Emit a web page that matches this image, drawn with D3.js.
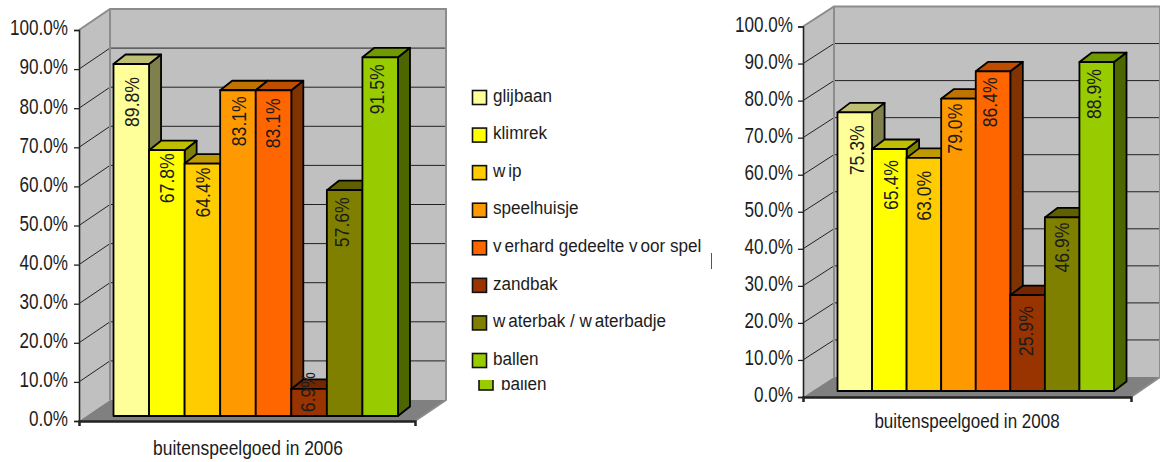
<!DOCTYPE html>
<html><head><meta charset="utf-8">
<script src="https://cdn.jsdelivr.net/npm/d3@7"></script>
<style>html,body{margin:0;padding:0;background:#fff}svg{display:block}text{font-family:"Liberation Sans",Arial,sans-serif;fill:#1c1c1c}</style>
</head><body><svg id="c" width="1160" height="462"></svg>
<script>
const categories = ["glijbaan","klimrek","wip","speelhuisje","verhard gedeelte voor spel","zandbak","waterbak / waterbadje","ballen"];
const colors = ["#ffff99","#ffff00","#ffcc00","#ff9900","#ff6600","#993300","#808000","#99cc00"];
const values2006 = [89.8,67.8,64.4,83.1,83.1,6.9,57.6,91.5];
const values2008 = [75.3,65.4,63.0,79.0,86.4,25.9,46.9,88.9];
const tickValues = [0,10,20,30,40,50,60,70,80,90,100];
const title2006 = "buitenspeelgoed in 2006";
const title2008 = "buitenspeelgoed in 2008";

// label placement: gap from bar top to label start, and horizontal nudge from bar centre
const labelGap2006 = [13,3,4,6,8,-17,7,7];
const labelNudge2006 = [0,0,0,0,-1,-2,-3,-4];
const labelGap2008 = [13,11,13,5,6,11,5,7];
const labelNudge2008 = [2,1,0,-4,-4,-2,-1,-3];

const svg = d3.select("#c");
const shade = (c,k)=>{const r=d3.rgb(c);return d3.rgb(r.r*k,r.g*k,r.b*k).formatHex();};

function drawChart(values,title,gaps,nudges,f){
  const g = svg.append("g");
  const yAxis = d3.scaleLinear().domain([0,100]).range([f.y0,f.y100]);
  const yBar = d3.scaleLinear().domain([0,100]).range([f.barY0,f.barY100]);
  const x = d3.scaleBand().domain(categories).range([f.barL,f.barR]);
  const L=f.x0,R=f.x1,dx=f.wallDx,dy=f.wallDy,Rb=f.backR;

  // walls
  g.append("polygon").attr("points",[[L+dx,yAxis(100)-dy],[Rb,yAxis(100)-dy],[Rb,f.y0-dy],[L+dx,f.y0-dy]].join(" ")).attr("fill","#c0c0c0");
  g.append("polygon").attr("points",[[L,yAxis(100)],[L+dx,yAxis(100)-dy],[L+dx,f.y0-dy],[L,f.y0]].join(" ")).attr("fill","#c0c0c0");
  g.append("polygon").attr("points",[[L,f.y0],[L+dx,f.y0-dy],[Rb,f.y0-dy],[R,f.y0]].join(" ")).attr("fill","#808080");

  // gridlines
  const grid = g.append("g").attr("stroke","#222").attr("stroke-width",1).attr("fill","none");
  grid.selectAll("polyline").data(tickValues.filter(t=>t>0&&t<100)).join("polyline")
    .attr("points",t=>[[L,yAxis(t)],[L+dx,yAxis(t)-dy],[Rb,yAxis(t)-dy]].join(" "));

  // wall outline
  g.append("polyline").attr("points",[[L,yAxis(100)],[L+dx,yAxis(100)-dy],[Rb,yAxis(100)-dy],[Rb,f.y0-dy],[R,f.y0]].join(" "))
    .attr("fill","none").attr("stroke","#8c8c8c").attr("stroke-width",2);
  g.append("line").attr("x1",L+dx).attr("x2",L+dx).attr("y1",yAxis(100)-dy).attr("y2",f.y0-dy).attr("stroke","#8c8c8c").attr("stroke-width",2);

  // bars
  const bd=f.barDx,bh=f.barDy;
  const bars = g.selectAll("g.bar").data(values).join("g").attr("class","bar")
    .attr("stroke","#000").attr("stroke-width",1.8).attr("stroke-linejoin","round");
  bars.each(function(v,i){
    const s=d3.select(this),c=categories[i],xl=x(c),xr=xl+x.bandwidth(),t=yBar(v),b=yBar(0);
    s.append("polygon").attr("points",[[xr,t],[xr+bd,t-bh],[xr+bd,b-bh],[xr,b]].join(" ")).attr("fill",shade(colors[i],.5));
    s.append("polygon").attr("points",[[xl,t],[xl+bd,t-bh],[xr+bd,t-bh],[xr,t]].join(" ")).attr("fill",shade(colors[i],.75));
    s.append("rect").attr("x",xl).attr("y",t).attr("width",x.bandwidth()).attr("height",b-t).attr("fill",colors[i]);
  });

  // data labels
  g.selectAll("text.val").data(values).join("text").attr("class","val")
    .attr("font-size",21).attr("text-anchor","end").attr("dy","0.36em")
    .attr("transform",(v,i)=>`translate(${x(categories[i])+x.bandwidth()/2+nudges[i]},${yBar(v)+gaps[i]}) rotate(-90) scale(0.84,1)`)
    .text(v=>v.toFixed(1)+"%");

  // axes
  const ax = g.append("g").attr("transform",`translate(${L},0)`)
    .call(d3.axisLeft(yAxis).tickValues(tickValues).tickSize(5).tickFormat(t=>t.toFixed(1)+"%"));
  ax.select(".domain").attr("stroke","#222").attr("stroke-width",1.6);
  ax.selectAll(".tick line").attr("stroke","#222").attr("stroke-width",1.3);
  ax.selectAll(".tick text").attr("x",null).attr("font-size",21.5).attr("font-family",null).attr("text-anchor","end")
    .attr("transform",`translate(${f.tickTextX},-2) scale(0.795,1)`);
  const xa = g.append("g").attr("transform",`translate(0,${f.y0})`)
    .call(d3.axisBottom(d3.scaleLinear().domain([0,1]).range([L,R])).tickValues([0,1]).tickSize(5).tickFormat(""));
  xa.select(".domain").attr("stroke","#222").attr("stroke-width",2.4);
  xa.selectAll(".tick line").attr("stroke","#222").attr("stroke-width",1.3);

  g.append("text").attr("font-size",21).attr("text-anchor","middle")
    .attr("transform",`translate(${f.titleX},${f.titleY}) scale(${f.titleSx},1)`).text(title);
}

drawChart(values2006,title2006,labelGap2006,labelNudge2006,{
  x0:79,x1:415,backR:446,wallDx:31,wallDy:21,y0:421,y100:30,
  barL:113.5,barR:398,barY0:416,barY100:24,barDx:12,barDy:9.5,
  tickTextX:-11,titleX:248,titleY:455,titleSx:.83});
drawChart(values2008,title2008,labelGap2008,labelNudge2008,{
  x0:803,x1:1131,backR:1160,wallDx:31,wallDy:20,y0:397,y100:26.5,
  barL:837.5,barR:1114,barY0:391,barY100:21,barDx:12.5,barDy:9.5,
  tickTextX:-10,titleX:967,titleY:428,titleSx:.81});

// legend: v and w carry a little extra space after them, as in the picture
const legendY = d3.scalePoint().domain(categories).range([97,360]);
const lg = svg.append("g");
const rows = lg.selectAll("g").data(categories).join("g").attr("transform",d=>`translate(472,${legendY(d)})`);
rows.append("rect").attr("x",.5).attr("y",-6.5).attr("width",14).attr("height",14)
  .attr("fill",(d,i)=>colors[i]).attr("stroke","#111").attr("stroke-width",1.6);
rows.append("text").attr("font-size",19).attr("dy","0.3em").attr("transform","translate(21,-1) scale(0.9,1)")
  .each(function(d){
    const t=d3.select(this);
    let extra=0;
    d.split(/(?<=[vw])/).forEach((p,i)=>{t.append("tspan").attr("dx",i?3.3:0).text(p);});
  });

// clipped remnant of a second legend row under the legend
svg.append("clipPath").attr("id","rem").append("rect").attr("x",470).attr("y",380).attr("width",120).attr("height",20);
const rem = svg.append("g").attr("clip-path","url(#rem)");
rem.append("rect").attr("x",479).attr("y",376).attr("width",14).attr("height",14).attr("fill",colors[7]).attr("stroke","#111").attr("stroke-width",1.6);
rem.append("text").attr("font-size",19).attr("transform","translate(501,390) scale(0.9,1)").text(categories[7]);
svg.append("line").attr("x1",711.5).attr("x2",711.5).attr("y1",253).attr("y2",269).attr("stroke","#555").attr("stroke-width",1);
</script></body></html>
